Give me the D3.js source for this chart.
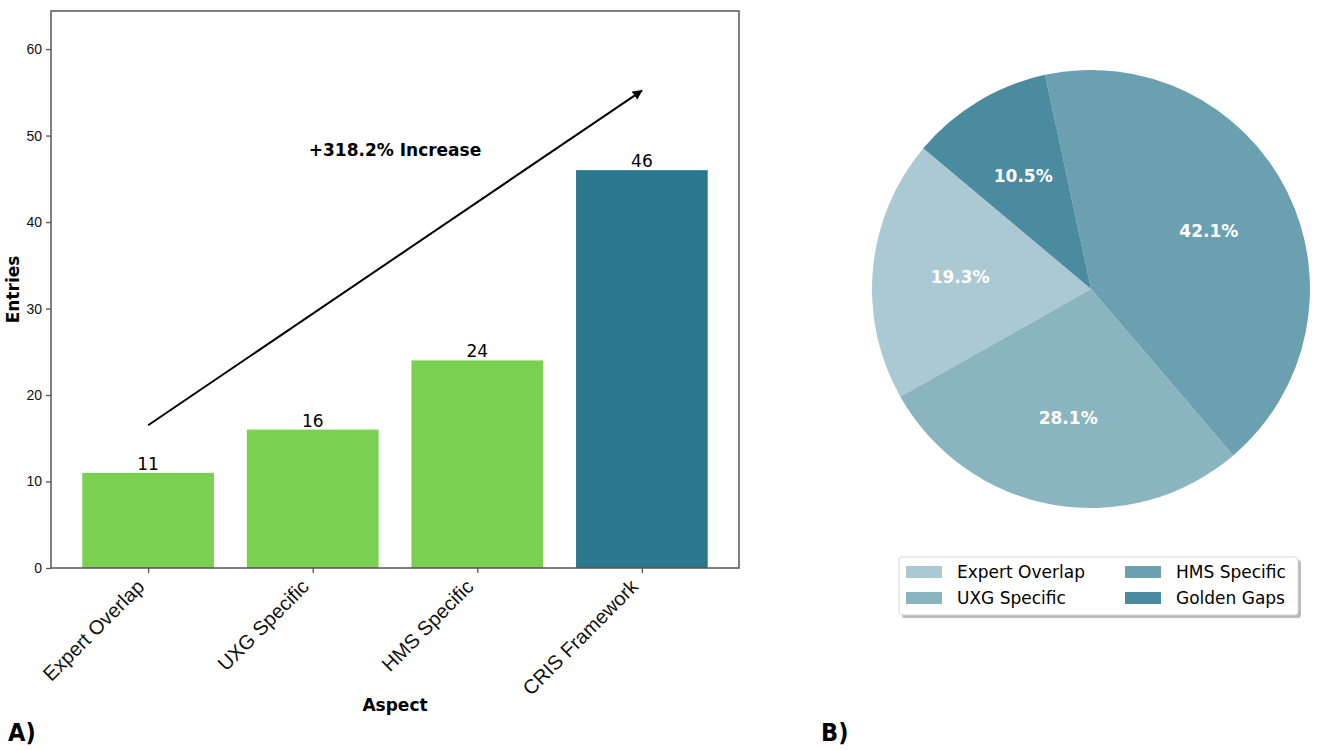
<!DOCTYPE html>
<html>
<head>
<meta charset="utf-8">
<script src="https://cdn.jsdelivr.net/npm/d3@7"></script>
<style>
  body { margin: 0; background: #fff; }
  svg { display: block; font-family: "DejaVu Sans", sans-serif; }
  .axis text { font-size: 14px; fill: #111; }
  .axis path, .axis line { stroke: #555; stroke-width: 1.3; }
</style>
</head>
<body>
<svg id="figure" width="1325" height="750"></svg>
<script>
// bar panel
var aspects = ['Expert Overlap', 'UXG Specific', 'HMS Specific', 'CRIS Framework'];
var entries = [11, 16, 24, 46];
var barColors = ['#7ad151', '#7ad151', '#7ad151', '#2a788e'];
var yTicks = [0, 10, 20, 30, 40, 50, 60];

// pie panel
var pieLabels = ['Expert Overlap', 'UXG Specific', 'HMS Specific', 'Golden Gaps'];
var pieValues = [11, 16, 24, 6];
var pieColors = ['#aac9d2', '#8bb4c1', '#6aa0b0', '#4a8ba0'];

var svg = d3.select('#figure');

// ---------- A) bar chart ----------
var frame = { left: 51, right: 739, top: 11, bottom: 568 };

var xScale = d3.scaleLinear()
  .domain([-0.59, 3.59])
  .range([frame.left, frame.right]);

var yScale = d3.scaleLinear()
  .domain([0, d3.max(entries) * 1.4])
  .range([frame.bottom, frame.top]);

var barW = 0.8;

var bars = svg.append('g');

bars.selectAll('rect')
  .data(entries)
  .enter()
  .append('rect')
  .attr('x', function(d, i) { return xScale(i - barW / 2); })
  .attr('width', function() { return xScale(barW) - xScale(0); })
  .attr('y', function(d) { return yScale(d); })
  .attr('height', function(d) { return yScale(0) - yScale(d); })
  .attr('fill', function(d, i) { return barColors[i]; });

// values above bars
bars.selectAll('text')
  .data(entries)
  .enter()
  .append('text')
  .attr('x', function(d, i) { return xScale(i); })
  .attr('y', function(d) { return yScale(d) - 3; })
  .attr('text-anchor', 'middle')
  .style('font-size', '17px')
  .text(function(d) { return d; });

// frame
svg.append('rect')
  .attr('x', frame.left)
  .attr('y', frame.top)
  .attr('width', frame.right - frame.left)
  .attr('height', frame.bottom - frame.top)
  .attr('fill', 'none')
  .attr('stroke', '#555')
  .attr('stroke-width', 1.5);

// axes
var yAxis = d3.axisLeft(yScale).tickValues(yTicks).tickSize(5).tickPadding(4);
svg.append('g')
  .attr('class', 'axis')
  .attr('transform', 'translate(' + frame.left + ',0)')
  .call(yAxis)
  .call(function(g) { g.select('.domain').remove(); });

var xAxis = d3.axisBottom(xScale)
  .tickValues(d3.range(aspects.length))
  .tickSize(5)
  .tickFormat(function(i) { return aspects[i]; });

svg.append('g')
  .attr('class', 'axis')
  .attr('transform', 'translate(0,' + frame.bottom + ')')
  .call(xAxis)
  .call(function(g) { g.select('.domain').remove(); })
  .selectAll('text')
  .style('font-size', '20px')
  .attr('text-anchor', 'end')
  .attr('y', 0)
  .attr('dy', 0)
  .attr('transform', 'translate(-3,20) rotate(-45)');

// axis titles
svg.append('text')
  .attr('x', (frame.left + frame.right) / 2)
  .attr('y', 711)
  .attr('text-anchor', 'middle')
  .style('font-size', '17px')
  .style('font-weight', 'bold')
  .text('Aspect');

svg.append('text')
  .attr('transform', 'translate(19,' + (frame.top + frame.bottom) / 2 + ') rotate(-90)')
  .attr('text-anchor', 'middle')
  .style('font-size', '17px')
  .style('font-weight', 'bold')
  .text('Entries');

// growth arrow
var first = entries[0], last = entries[entries.length - 1];
var growth = (last - first) / first * 100;

svg.append('defs').append('marker')
  .attr('id', 'head')
  .attr('viewBox', '0 0 10 10')
  .attr('refX', 9)
  .attr('refY', 5)
  .attr('markerWidth', 5)
  .attr('markerHeight', 5)
  .attr('orient', 'auto')
  .append('path')
  .attr('d', 'M0,0 L10,5 L0,10 z')
  .attr('fill', '#000');

svg.append('line')
  .attr('x1', xScale(0))
  .attr('y1', yScale(first * 1.5))
  .attr('x2', xScale(aspects.length - 1))
  .attr('y2', yScale(last * 1.2))
  .attr('stroke', '#000')
  .attr('stroke-width', 2)
  .attr('marker-end', 'url(#head)');

svg.append('text')
  .attr('x', xScale(1.5))
  .attr('y', yScale(last * 1.05))
  .attr('dy', '0.35em')
  .attr('text-anchor', 'middle')
  .style('font-size', '17px')
  .style('font-weight', 'bold')
  .text('+' + growth.toFixed(1) + '% Increase');

// ---------- B) pie chart ----------
var cx = 1091, cy = 289, radius = 219;

// matplotlib startangle=140, counter-clockwise
var pie = d3.pie()
  .sort(null)
  .startAngle((90 - 140) * Math.PI / 180)
  .endAngle((90 - 140 - 360) * Math.PI / 180);

var arcs = pie(pieValues);
var total = d3.sum(pieValues);

var arc = d3.arc().innerRadius(0).outerRadius(radius);
var labelArc = d3.arc().innerRadius(radius * 0.6).outerRadius(radius * 0.6);

var pieG = svg.append('g').attr('transform', 'translate(' + cx + ',' + cy + ')');

pieG.selectAll('path')
  .data(arcs)
  .enter()
  .append('path')
  .attr('d', arc)
  .attr('fill', function(d, i) { return pieColors[i]; });

pieG.selectAll('text')
  .data(arcs)
  .enter()
  .append('text')
  .attr('transform', function(d) { return 'translate(' + labelArc.centroid(d) + ')'; })
  .attr('text-anchor', 'middle')
  .attr('dy', '0.35em')
  .attr('fill', '#fff')
  .style('font-size', '17px')
  .style('font-weight', 'bold')
  .text(function(d) { return (d.value / total * 100).toFixed(1) + '%'; });

// legend
var legend = svg.append('g').attr('transform', 'translate(899,557)');

legend.append('rect')
  .attr('x', 3).attr('y', 3)
  .attr('width', 399).attr('height', 58)
  .attr('rx', 3)
  .attr('fill', '#bbb');

legend.append('rect')
  .attr('width', 399).attr('height', 58)
  .attr('rx', 3)
  .attr('fill', '#fff')
  .attr('stroke', '#d6d6d6');

var items = legend.selectAll('.item')
  .data(pieLabels)
  .enter()
  .append('g')
  .attr('class', 'item')
  .attr('transform', function(d, i) {
    var col = Math.floor(i / 2), row = i % 2;
    return 'translate(' + (7 + col * 219) + ',' + (9 + row * 26) + ')';
  });

items.append('rect')
  .attr('width', 36)
  .attr('height', 12)
  .attr('fill', function(d, i) { return pieColors[i]; });

items.append('text')
  .attr('x', 51)
  .attr('y', 6)
  .attr('dy', '0.35em')
  .style('font-size', '17px')
  .text(function(d) { return d; });

// panel letters
svg.append('text')
  .attr('x', 8).attr('y', 741)
  .style('font-size', '25px')
  .style('font-weight', 'bold')
  .style('font-stretch', 'condensed')
  .text('A)');

svg.append('text')
  .attr('x', 821).attr('y', 741)
  .style('font-size', '25px')
  .style('font-weight', 'bold')
  .style('font-stretch', 'condensed')
  .text('B)');
</script>
</body>
</html>
